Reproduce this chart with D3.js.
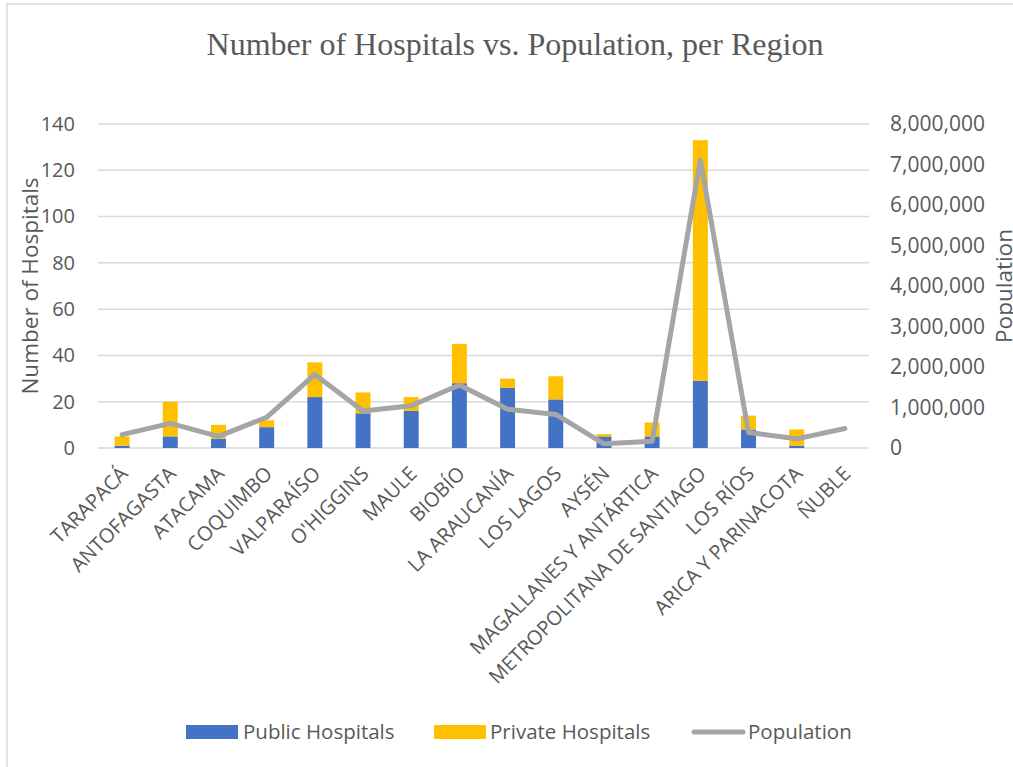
<!DOCTYPE html>
<html><head><meta charset="utf-8">
<script src="https://cdn.jsdelivr.net/npm/d3@7"></script>
<style>html,body{margin:0;padding:0;background:#fff;}svg{display:block;}</style>
</head><body>
<script>
const regions = ["TARAPACÁ","ANTOFAGASTA","ATACAMA","COQUIMBO","VALPARAÍSO","O'HIGGINS","MAULE","BIOBÍO","LA ARAUCANÍA","LOS LAGOS","AYSÉN","MAGALLANES Y ANTÁRTICA","METROPOLITANA DE SANTIAGO","LOS RÍOS","ARICA Y PARINACOTA","ÑUBLE"];
const publicHospitals = [1,5,4,9,22,15,16,28,26,21,5,5,29,8,1,0];
const privateHospitals = [4,15,6,3,15,9,6,17,4,10,1,6,104,6,7,0];
const population = [330000,607000,286000,758000,1816000,915000,1045000,1557000,957000,829000,103000,167000,7113000,385000,226000,481000];
const leftTicks = [0,20,40,60,80,100,120,140];
const rightTicks = [0,1000000,2000000,3000000,4000000,5000000,6000000,7000000,8000000];
const seriesNames = ["Public Hospitals","Private Hospitals","Population"];
const colors = ["#4472C4","#FFC000","#A5A5A5"];

const W = 1013, H = 767;
const svg = d3.select("body").append("svg").attr("width", W).attr("height", H);
svg.append("rect").attr("x",7).attr("y",4).attr("width",W+20).attr("height",H+20)
  .attr("fill","#fff").attr("stroke","#d9d9d9").attr("stroke-width",1.5);

const plot = {left:98, right:869, top:124, bottom:448};
const x = d3.scaleBand().domain(regions).range([plot.left, plot.right]).padding(0);
const yL = d3.scaleLinear().domain([0,140]).range([plot.bottom, plot.top]);
const yR = d3.scaleLinear().domain([0,8000000]).range([plot.bottom, plot.top]);
const txt = "#595959";
const font = "'Open Sans', 'Noto Sans', sans-serif";

// title
svg.append("text").attr("x",515).attr("y",55).attr("text-anchor","middle")
  .attr("font-family","'Liberation Serif','Times New Roman',serif").attr("font-size",32)
  .attr("fill",txt).text("Number of Hospitals vs. Population, per Region");

// gridlines
svg.append("g").selectAll("line").data(leftTicks).join("line")
  .attr("x1",plot.left).attr("x2",plot.right)
  .attr("y1",d=>yL(d)).attr("y2",d=>yL(d))
  .attr("stroke","#d9d9d9").attr("stroke-width",1.5);

// left axis
const gl = svg.append("g").attr("transform",`translate(${plot.left},0)`)
  .call(d3.axisLeft(yL).tickValues(leftTicks).tickSize(0).tickPadding(23));
gl.select(".domain").remove();
gl.selectAll("text").attr("font-family",font).attr("font-size",20).attr("fill",txt);

// right axis
const gr = svg.append("g").attr("transform",`translate(${plot.right},0)`)
  .call(d3.axisRight(yR).tickValues(rightTicks).tickSize(0).tickPadding(21).tickFormat(d3.format(",")));
gr.select(".domain").remove();
gr.selectAll("text").attr("font-family",font).attr("font-size",21).attr("fill",txt);

// axis titles
svg.append("text").attr("transform","translate(38,286) rotate(-90)").attr("text-anchor","middle")
  .attr("font-family",font).attr("font-size",22.5).attr("fill",txt).text("Number of Hospitals");
svg.append("text").attr("transform","translate(1012,286) rotate(-90)").attr("text-anchor","middle")
  .attr("font-family",font).attr("font-size",22.5).attr("fill",txt).text("Population");

// bars
const bw = x.bandwidth()*0.31;
const stacked = regions.map((r,i)=>({r, pub:publicHospitals[i], pri:privateHospitals[i]}));
const gb = svg.append("g");
gb.selectAll("rect.pub").data(stacked).join("rect").attr("class","pub")
  .attr("x",d=>x(d.r)+x.bandwidth()/2-bw/2).attr("width",bw)
  .attr("y",d=>yL(d.pub)).attr("height",d=>yL(0)-yL(d.pub)).attr("fill",colors[0]);
gb.selectAll("rect.pri").data(stacked).join("rect").attr("class","pri")
  .attr("x",d=>x(d.r)+x.bandwidth()/2-bw/2).attr("width",bw)
  .attr("y",d=>yL(d.pub+d.pri)).attr("height",d=>yL(d.pub)-yL(d.pub+d.pri)).attr("fill",colors[1]);

// line
const line = d3.line().x((d,i)=>x(regions[i])+x.bandwidth()/2).y(d=>yR(d));
svg.append("path").datum(population).attr("d",line).attr("fill","none")
  .attr("stroke",colors[2]).attr("stroke-width",5).attr("stroke-linejoin","round").attr("stroke-linecap","round");

// x labels
svg.append("g").selectAll("text").data(regions).join("text")
  .attr("transform",d=>`translate(${x(d)+x.bandwidth()/2+2},${plot.bottom+22}) rotate(-45)`)
  .attr("text-anchor","end").attr("dy","0.35em")
  .attr("font-family",font).attr("font-size",20).attr("fill",txt).text(d=>d);

// legend
const lg = svg.append("g").attr("font-family",font).attr("font-size",20.5).attr("fill",txt);
lg.append("rect").attr("x",186).attr("y",725).attr("width",52).attr("height",14).attr("fill",colors[0]);
lg.append("text").attr("x",243).attr("y",739).text(seriesNames[0]);
lg.append("rect").attr("x",434).attr("y",725).attr("width",52).attr("height",14).attr("fill",colors[1]);
lg.append("text").attr("x",490).attr("y",739).text(seriesNames[1]);
lg.append("line").attr("x1",694).attr("x2",743).attr("y1",732).attr("y2",732)
  .attr("stroke",colors[2]).attr("stroke-width",5).attr("stroke-linecap","round");
lg.append("text").attr("x",748).attr("y",739).text(seriesNames[2]);
</script>
</body></html>
